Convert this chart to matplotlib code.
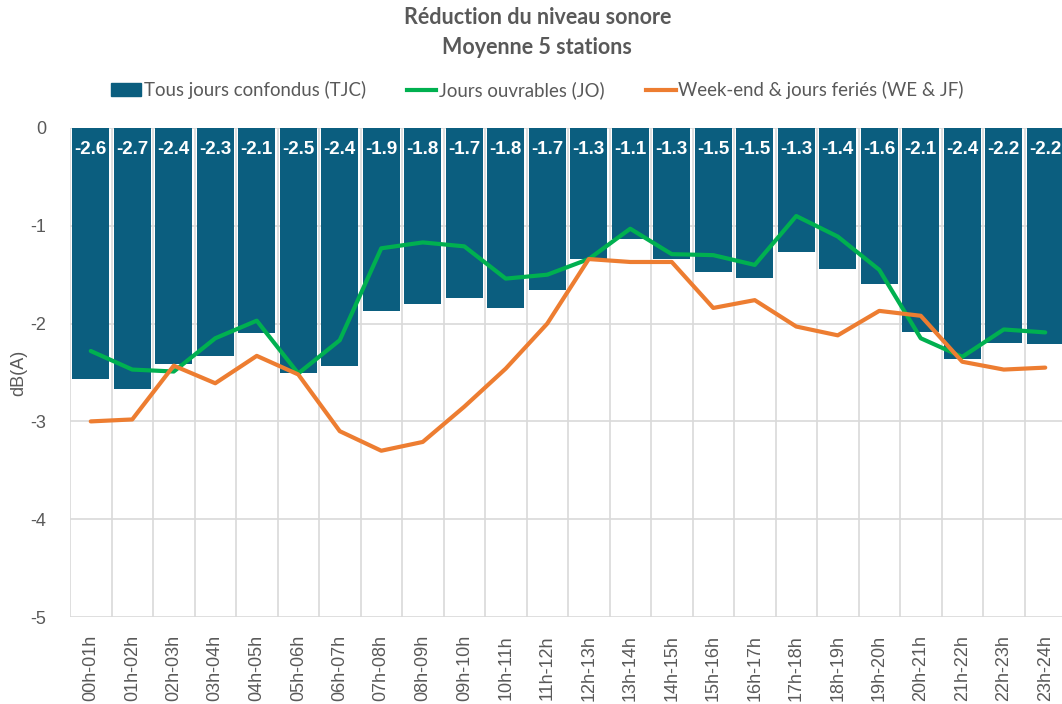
import numpy as np
import matplotlib
matplotlib.use("Agg")
import matplotlib.pyplot as plt
from matplotlib.lines import Line2D
from matplotlib.patches import Patch

# ==========================================
# DATA
# ==========================================

hours = ["00h-01h", "01h-02h", "02h-03h", "03h-04h", "04h-05h", "05h-06h",
         "06h-07h", "07h-08h", "08h-09h", "09h-10h", "10h-11h", "11h-12h",
         "12h-13h", "13h-14h", "14h-15h", "15h-16h", "16h-17h", "17h-18h",
         "18h-19h", "19h-20h", "20h-21h", "21h-22h", "22h-23h", "23h-24h"]

tjc = [-2.57, -2.67, -2.41, -2.33, -2.10, -2.51, -2.43, -1.87, -1.80, -1.74,
       -1.84, -1.66, -1.34, -1.14, -1.34, -1.47, -1.53, -1.27, -1.44, -1.60,
       -2.09, -2.36, -2.20, -2.21]

jo = [-2.28, -2.47, -2.49, -2.15, -1.97, -2.51, -2.17, -1.23, -1.17, -1.21,
      -1.54, -1.50, -1.34, -1.03, -1.29, -1.30, -1.40, -0.90, -1.11, -1.45,
      -2.15, -2.34, -2.06, -2.09]

we_jf = [-3.00, -2.98, -2.43, -2.61, -2.33, -2.52, -3.10, -3.30, -3.21, -2.85,
         -2.46, -2.00, -1.34, -1.37, -1.37, -1.84, -1.76, -2.03, -2.12, -1.87,
         -1.92, -2.39, -2.47, -2.45]

BAR_COLOR = "#0B5E7F"
GREEN = "#00B050"
ORANGE = "#ED7D31"
TEXT = "#595959"
GRID = "#D9D9D9"

# ==========================================
# FIGURE
# ==========================================

fig = plt.figure(figsize=(10.62, 7.04), dpi=100)
ax = fig.add_axes([70 / 1062, 87 / 704, 996 / 1062, 489 / 704])

x = np.arange(len(hours))

ax.bar(x, tjc, width=0.89, color=BAR_COLOR, zorder=2)
ax.plot(x, jo, color=GREEN, lw=3, zorder=3, solid_capstyle="round")
ax.plot(x, we_jf, color=ORANGE, lw=3, zorder=3, solid_capstyle="round")

# data labels at the top of each bar
for i, v in enumerate(tjc):
    ax.text(i, -0.22, f"{v:.1f}", ha="center", va="center", color="white",
            fontsize=13.5, fontweight="bold", family="Liberation Sans", zorder=4)

ax.set_xlim(-0.5, len(hours) - 0.5)
ax.set_ylim(-5, 0)
ax.set_yticks([0, -1, -2, -3, -4, -5])
ax.set_yticklabels(["0", "-1", "-2", "-3", "-4", "-5"])
ax.set_xticks(x)
ax.set_xticklabels(hours, rotation=90)
ax.set_xticks(np.arange(-0.5, len(hours)), minor=True)

ax.grid(axis="y", which="major", color=GRID, lw=1.2, zorder=0)
ax.grid(axis="x", which="minor", color=GRID, lw=1.2, zorder=0)
ax.grid(axis="x", which="major", visible=False)
ax.tick_params(which="both", length=0)
ax.tick_params(axis="y", pad=17, labelsize=13, labelcolor=TEXT)
ax.tick_params(axis="x", pad=13, labelsize=13, labelcolor=TEXT)
for lbl in ax.get_xticklabels() + ax.get_yticklabels():
    lbl.set_family("Liberation Sans")
for s in ax.spines.values():
    s.set_visible(False)

ax.set_ylabel("dB(A)", fontsize=13, color=TEXT, family="Liberation Sans", labelpad=2)

# ==========================================
# TITLE + LEGEND
# ==========================================

fig.text(0.506, 1 - 18 / 704, "Réduction du niveau sonore", ha="center", va="center",
         fontsize=15.5, fontweight="bold", color=TEXT, family="Lato")
fig.text(0.506, 1 - 47 / 704, "Moyenne 5 stations", ha="center", va="center",
         fontsize=15.5, fontweight="bold", color=TEXT, family="Lato")

handles = [Patch(color=BAR_COLOR),
           Line2D([], [], color=GREEN, lw=3),
           Line2D([], [], color=ORANGE, lw=3)]
labels = ["Tous jours confondus (TJC)", "Jours ouvrables (JO)",
          "Week-end & jours feriés (WE & JF)"]
fig.legend(handles, labels, loc="center", bbox_to_anchor=(0.506, 1 - 90 / 704),
           ncol=3, frameon=False, handlelength=1.6, handletextpad=0.15,
           columnspacing=2.2, prop={"family": "Lato", "size": 13.4},
           labelcolor=TEXT)

fig.savefig("out.png", dpi=100)
